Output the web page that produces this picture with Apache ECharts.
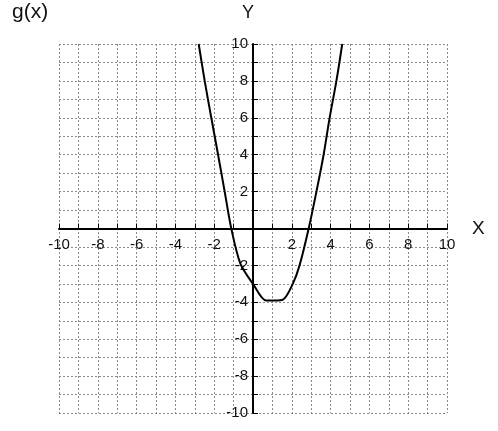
<!DOCTYPE html>
<html>
<head>
<meta charset="utf-8">
<script src="https://cdn.jsdelivr.net/npm/echarts@6/dist/echarts.min.js"></script>
<style>
  html, body { margin: 0; padding: 0; background: #fff; }
  #chart { width: 498px; height: 431px; }
</style>
</head>
<body>
<div id="chart"></div>
<script>
const xs = [-2.8, -2.49, -2.15, -1.8, -1.46, -1.12, -0.65, 0, 0.67, 1.1, 1.55, 2.05, 2.4, 2.87, 3.27, 3.64, 3.95, 4.3, 4.6];
const ys = [10, 8, 6, 4, 2, 0, -1.9, -3, -3.9, -3.9, -3.85, -3, -2, 0, 2, 4, 6, 8, 10];

// axis range / labels
const axisMin = -10;
const axisMax = 10;
const tickLabels = [-10, -8, -6, -4, -2, 2, 4, 6, 8, 10];

const points = xs.map((x, i) => [x, ys[i]]);
const labelFmt = v => tickLabels.includes(v) ? String(v) : '';

const gridLine = { show: true, lineStyle: { color: '#8a8a8a', type: [2, 2], width: 1 } };
const font = 'Liberation Sans, Arial, sans-serif';

// grid box, the axes sit in the middle of it
const box = { left: 59, right: 51, top: 44, bottom: 18 };
const boxW = 498 - box.left - box.right;
const boxH = 431 - box.top - box.bottom;

let myChart = echarts.init(document.getElementById('chart'));
myChart.setOption({
    animation: false,
    backgroundColor: '#fff',
    grid: box,
    xAxis: {
        type: 'value', min: axisMin, max: axisMax, interval: 1,
        offset: -boxH / 2,
        axisLine: { onZero: false, lineStyle: { color: '#000', width: 2 } },
        axisTick: { show: true, inside: true, length: 5, lineStyle: { color: '#000' } },
        axisLabel: { formatter: labelFmt, color: '#111', fontSize: 15, fontFamily: font, margin: 9, showMinLabel: true, showMaxLabel: true },
        splitLine: gridLine
    },
    yAxis: {
        type: 'value', min: axisMin, max: axisMax, interval: 1,
        offset: -boxW / 2,
        axisLine: { onZero: false, lineStyle: { color: '#000', width: 2 } },
        axisTick: { show: true, inside: true, length: 5, lineStyle: { color: '#000' } },
        axisLabel: { formatter: labelFmt, color: '#111', fontSize: 15, fontFamily: font, margin: 5, showMinLabel: true, showMaxLabel: true },
        splitLine: gridLine
    },
    graphic: [
        { type: 'text', left: 12, top: 2, style: { text: 'g(x)', font: '21px ' + font, fill: '#111' } },
        { type: 'text', left: 242, top: 4, style: { text: 'Y', font: '18px ' + font, fill: '#111' } },
        { type: 'text', left: 472, top: 219, style: { text: 'X', font: '19px ' + font, fill: '#111' } }
    ],
    series: [{
        type: 'line',
        data: points,
        smooth: 0.3,
        symbol: 'none',
        lineStyle: { color: '#000', width: 2 }
    }]
});
</script>
</body>
</html>
